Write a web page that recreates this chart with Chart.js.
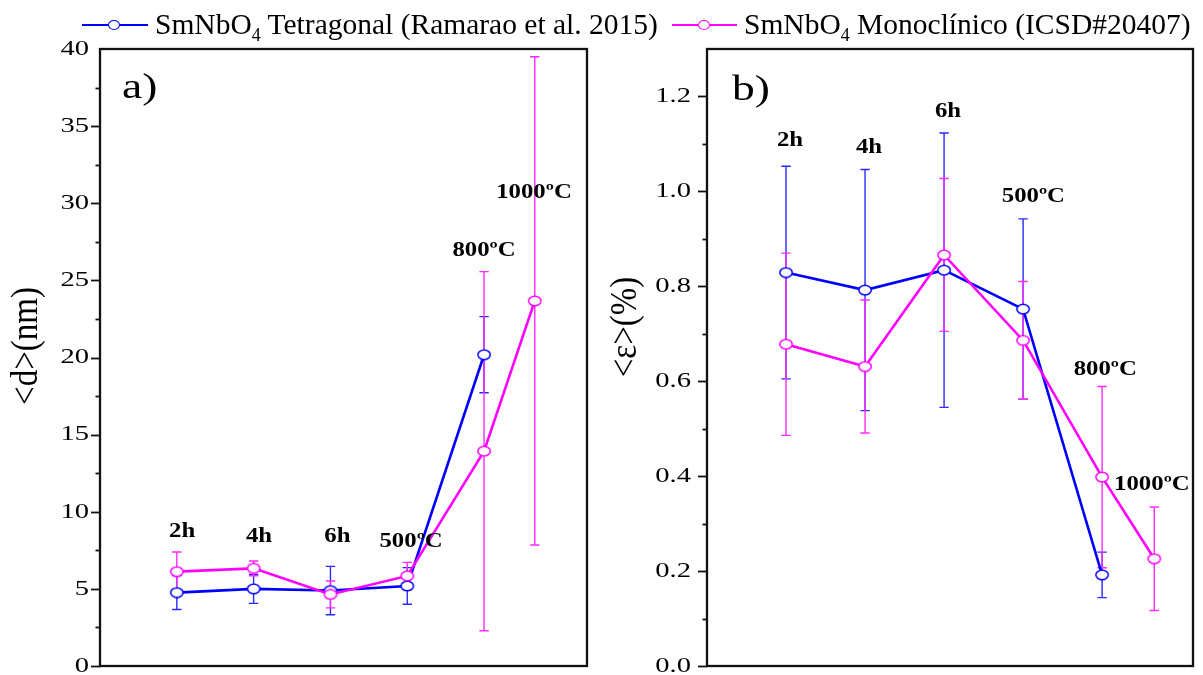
<!DOCTYPE html>
<html>
<head>
<meta charset="utf-8">
<script src="https://cdn.jsdelivr.net/npm/chart.js@4.4.1/dist/chart.umd.min.js"></script>
<style>
  html, body { margin: 0; padding: 0; background: #fff; }
  #page { position: relative; width: 1203px; height: 675px; overflow: hidden;
          font-family: "Liberation Serif", "Times New Roman", serif; color: #000; }
  canvas.panel { position: absolute; top: 0; }
  .key .ln { position: absolute; top: 24px; height: 2px; }
  .key .mk { position: absolute; top: 20px; width: 12px; height: 10px; border-radius: 50%;
             box-sizing: border-box; border: 1.4px solid; background: #fff; }
  .key .tx { position: absolute; top: 9px; font-size: 29.5px; line-height: 30px; white-space: nowrap; }
  .key sub { font-size: 18px; vertical-align: -7px; line-height: 0; }
</style>
</head>
<body>
<div id="page">
  <canvas id="sizeChart" class="panel" width="600" height="675" style="left:0"></canvas>
  <canvas id="strainChart" class="panel" width="603" height="675" style="left:600px"></canvas>
  <div class="key">
    <div class="ln" style="left:82px;width:66px;background:#0000ff"></div>
    <div class="mk" style="left:108px;border-color:#0000ff"></div>
    <div class="tx" style="left:155px">SmNbO<sub>4</sub> Tetragonal (Ramarao et al. 2015)</div>
    <div class="ln" style="left:672px;width:65px;background:#ff00ff"></div>
    <div class="mk" style="left:698px;border-color:#ff00ff"></div>
    <div class="tx" style="left:744px">SmNbO<sub>4</sub> Monoclínico (ICSD#20407)</div>
  </div>
</div>
<script>
// Synthesis conditions, in plotting order, and where each sits on the x axis
const categories = ['2h', '4h', '6h', '500ºC', '800ºC', '1000ºC'];
const xPositions = [1, 2, 3, 4, 5, 5.66];

// a) mean crystallite size <d> (nm) with its uncertainty
const sizeTetragonal    = [4.76, 5.00, 4.89, 5.19, 20.18];
const sizeTetragonalErr = [1.10, 0.94, 1.57, 1.19, 2.47];
const sizeMonoclinic    = [6.12, 6.33, 4.64, 5.84, 13.93, 23.67];
const sizeMonoclinicErr = [1.27, 0.48, 0.87, 0.88, 11.64, 15.83];

// b) mean microstrain <ε> (%) with its uncertainty
const strainTetragonal    = [0.829, 0.792, 0.834, 0.752, 0.192];
const strainTetragonalErr = [0.224, 0.254, 0.289, 0.190, 0.048];
const strainMonoclinic    = [0.678, 0.631, 0.866, 0.686, 0.398, 0.226];
const strainMonoclinicErr = [0.192, 0.140, 0.161, 0.124, 0.191, 0.109];

// Axis ticks
const sizeTickValues   = [0, 5, 10, 15, 20, 25, 30, 35, 40];
const sizeTickLabels   = ['0', '5', '10', '15', '20', '25', '30', '35', '40'];
const strainTickValues = [0, 0.2, 0.4, 0.6, 0.8, 1.0, 1.2];
const strainTickLabels = ['0.0', '0.2', '0.4', '0.6', '0.8', '1.0', '1.2'];

// Where each condition label is anchored, in data units (x, baseline y)
const sizeLabelX   = [1.07, 2.07, 3.09, 4.05, 5.00, 5.65];
const sizeLabelY   = [8.36, 8.04, 8.04, 7.71, 26.56, 30.37];
const strainLabelX = [1.05, 2.05, 3.05, 4.13, 5.04, 5.63];
const strainLabelY = [1.095, 1.081, 1.156, 0.977, 0.614, 0.370];

const BLUE = '#0000ff';
const MAGENTA = '#ff00ff';

function toPoints(values) {
  return values.map((v, i) => ({ x: xPositions[i], y: v }));
}

// Open elliptical marker with a white interior
function ringMarker(color) {
  const c = document.createElement('canvas');
  c.width = 16; c.height = 12;
  const g = c.getContext('2d');
  g.beginPath();
  g.ellipse(8, 6, 6.2, 4.7, 0, 0, Math.PI * 2);
  g.fillStyle = '#fff';
  g.fill();
  g.lineWidth = 1.5;
  g.strokeStyle = color;
  g.stroke();
  return c;
}

function stretchedText(ctx, text, x, y, font, align, sx) {
  ctx.save();
  ctx.translate(x, y);
  ctx.scale(sx, 1);
  ctx.font = font;
  ctx.textAlign = align;
  ctx.fillText(text, 0, 0);
  ctx.restore();
}

// Vertical error bars with caps, drawn beneath lines and markers
const errorBars = {
  id: 'errorBars',
  beforeDatasetsDraw(chart) {
    const ctx = chart.ctx;
    const xs = chart.scales.x, ys = chart.scales.y;
    chart.data.datasets.forEach(ds => {
      if (!ds.errors) return;
      ctx.save();
      ctx.strokeStyle = ds.errorColor;
      ctx.lineWidth = 1.4;
      ds.data.forEach((p, i) => {
        const e = ds.errors[i];
        const px = xs.getPixelForValue(p.x);
        const top = ys.getPixelForValue(p.y + e);
        const bot = ys.getPixelForValue(p.y - e);
        ctx.beginPath();
        ctx.moveTo(px, top); ctx.lineTo(px, bot);
        ctx.moveTo(px - 4.7, top); ctx.lineTo(px + 4.7, top);
        ctx.moveTo(px - 4.7, bot); ctx.lineTo(px + 4.7, bot);
        ctx.stroke();
      });
      ctx.restore();
    });
  }
};

// Frame, y ticks with minor marks, axis title, panel letter and condition labels
const panelDecor = {
  id: 'panelDecor',
  afterDraw(chart, args, o) {
    const ctx = chart.ctx;
    const a = chart.chartArea;
    const ys = chart.scales.y, xs = chart.scales.x;
    ctx.save();
    ctx.fillStyle = '#000';
    ctx.strokeStyle = '#111';

    // frame
    ctx.lineWidth = 2.3;
    ctx.strokeRect(a.left, a.top, a.right - a.left, a.bottom - a.top);

    // ticks on the left axis
    ctx.lineWidth = 1.8;
    const step = o.minorStep;
    for (let v = 0; v < ys.max - 1e-9; v += step) {
      const isMajor = Math.abs(v / (step * 2) - Math.round(v / (step * 2))) < 1e-6;
      const py = Math.round(ys.getPixelForValue(v)) + 0.5;
      ctx.beginPath();
      ctx.moveTo(a.left - (isMajor ? 9 : 4.5), py);
      ctx.lineTo(a.left, py);
      ctx.stroke();
    }
    ctx.textBaseline = 'middle';
    o.tickValues.forEach((v, i) => {
      stretchedText(ctx, o.tickLabels[i], a.left - o.tickGap, ys.getPixelForValue(v),
        '22px "Liberation Serif"', 'right', 1.3);
    });

    // rotated axis title
    ctx.save();
    ctx.translate(o.titleX, o.titleY);
    ctx.rotate(-Math.PI / 2);
    ctx.scale(1, 1.12);
    ctx.font = '33px "Liberation Serif"';
    ctx.textAlign = 'center';
    ctx.textBaseline = 'middle';
    ctx.fillText(o.axisTitle, 0, 0);
    ctx.restore();

    // panel letter
    ctx.textBaseline = 'alphabetic';
    stretchedText(ctx, o.panelLetter, a.left + o.letterDx, a.top + o.letterDy,
      '35px "Liberation Serif"', 'left', 1.3);

    // condition labels
    categories.forEach((t, i) => {
      stretchedText(ctx, t, xs.getPixelForValue(o.labelX[i]), ys.getPixelForValue(o.labelY[i]),
        'bold 21px "Liberation Serif"', 'center', 1.18);
    });
    ctx.restore();
  }
};

function makeChart(id, tetra, tetraErr, mono, monoErr, yMax, xMax, padding, decor) {
  return new Chart(document.getElementById(id), {
    type: 'line',
    data: {
      datasets: [
        { label: 'Tetragonal', data: toPoints(tetra), errors: tetraErr, errorColor: '#2a2aff',
          borderColor: BLUE, borderWidth: 2.6, pointStyle: ringMarker(BLUE), pointRadius: 5,
          tension: 0, fill: false, order: 1 },
        { label: 'Monoclínico', data: toPoints(mono), errors: monoErr, errorColor: '#ff2aff',
          borderColor: MAGENTA, borderWidth: 2.6, pointStyle: ringMarker(MAGENTA), pointRadius: 5,
          tension: 0, fill: false, order: 0 }
      ]
    },
    options: {
      responsive: false,
      animation: false,
      devicePixelRatio: 1,
      events: [],
      layout: { padding: padding, autoPadding: false },
      scales: {
        x: { type: 'linear', min: 0, max: xMax, display: false },
        y: { type: 'linear', min: 0, max: yMax, display: false }
      },
      plugins: {
        legend: { display: false },
        tooltip: { enabled: false },
        panelDecor: decor
      }
    },
    plugins: [errorBars, panelDecor]
  });
}

makeChart('sizeChart', sizeTetragonal, sizeTetragonalErr, sizeMonoclinic, sizeMonoclinicErr,
  40, 6.34, { left: 100, top: 49, right: 13, bottom: 9 },
  { axisTitle: '<d>(nm)', titleX: 27, titleY: 346, panelLetter: 'a)', letterDx: 22, letterDy: 49,
    tickValues: sizeTickValues, tickLabels: sizeTickLabels, minorStep: 2.5, tickGap: 11,
    labelX: sizeLabelX, labelY: sizeLabelY });

makeChart('strainChart', strainTetragonal, strainTetragonalErr, strainMonoclinic, strainMonoclinicErr,
  1.3, 6.15, { left: 107, top: 49, right: 10, bottom: 9 },
  { axisTitle: '<ε>(%)', titleX: 26, titleY: 327, panelLetter: 'b)', letterDx: 25, letterDy: 51,
    tickValues: strainTickValues, tickLabels: strainTickLabels, minorStep: 0.1, tickGap: 16,
    labelX: strainLabelX, labelY: strainLabelY });
</script>
</body>
</html>
